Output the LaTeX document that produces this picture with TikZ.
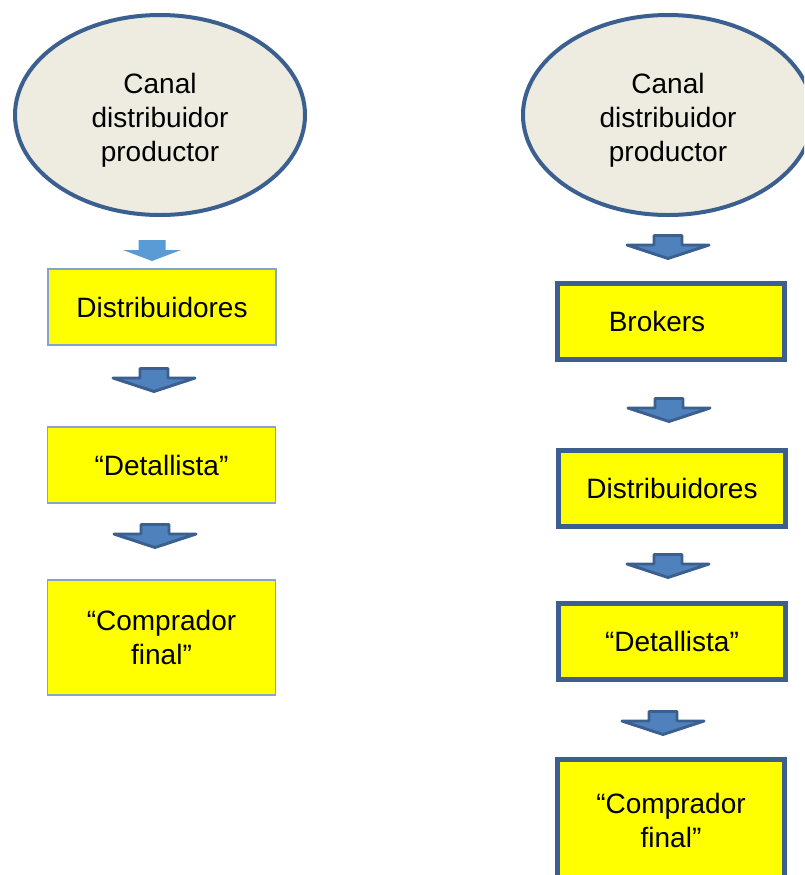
\documentclass[tikz,border=0pt]{standalone}
\usepackage{fontspec}
\setmainfont{Liberation Sans}
\usetikzlibrary{shapes.geometric,positioning}
\definecolor{azulosc}{HTML}{3B5F8E}
\definecolor{azulmed}{HTML}{4F81BD}
\definecolor{azulcla}{HTML}{5B9BD5}
\definecolor{azulbor}{HTML}{86A3CB}
\definecolor{beige}{HTML}{EEECE1}
\definecolor{amarillo}{HTML}{FFFF00}
\tikzset{
  canal/.style={
    shape = ellipse,
    draw = azulosc,
    line width = 3pt,
    fill = beige,
    minimum width = 217.5pt,
    minimum height = 150pt,
    inner sep = 0pt,
    label = {[align=center, yshift=-3.75pt]center:Canal\\distribuidor\\productor}
  },
  caja/.style={
    draw = azulbor,
    line width = 1.1pt,
    fill = amarillo,
    minimum width = 171pt,
    minimum height = 57pt,
    align = center
  },
  cajag/.style={
    caja,
    draw = azulosc,
    line width = 3.75pt,
    minimum width = 170pt
  },
  every picture/.style = {
    x = 0.75pt, y = -0.75pt,
    font = \fontsize{21}{25.5}\selectfont
  }
}
\tikzset{
  flecha/.pic={
    \draw[azulosc, fill=azulmed, line width=2.2pt, line join=round]
      (-14,1.5) -- (14,1.5) -- (14,11) -- (41,11) -- (0,24.5) -- (-41,11) -- (-14,11) -- cycle;
  },
  flechac/.pic={
    \fill[azulcla] (-13.5,0) -- (13.5,0) -- (13.5,10) -- (29,10) -- (0,21) -- (-29,10) -- (-13.5,10) -- cycle;
  }
}

\begin{document}
\begin{tikzpicture}
  \clip (0,0) rectangle (804,875);
  \fill[white] (0,0) rectangle (804,875);
  % canal corto
  \node[canal] (prodA) at (160,115) {};
  \node[caja] (distA) at (162,307) {Distribuidores};
  \node[caja] (detA) at (161.5,465) {“Detallista”};
  \node[caja, minimum height=86pt] (compA) at (161.5,637.5) {“Comprador\\final”};
  \pic at (152,240) {flechac};
  \pic at (154,367) {flecha};
  \pic at (155,523) {flecha};
  % canal largo
  \node[canal] (prodB) at (668,115) {};
  \node[cajag] (brokB) at (671,321.5) {Brokers\hspace*{21pt}};
  \node[cajag] (distB) at (672,488) {Distribuidores};
  \node[cajag] (detB) at (672,641) {“Detallista”};
  \node[cajag, minimum height=91.5pt] (compB) at (671,820.5) {“Comprador\\final”};
  \foreach \cx/\cy in {668/234, 669/397, 668/553, 663/710}{
    \pic at (\cx,\cy) {flecha};
  }
\end{tikzpicture}
\end{document}
